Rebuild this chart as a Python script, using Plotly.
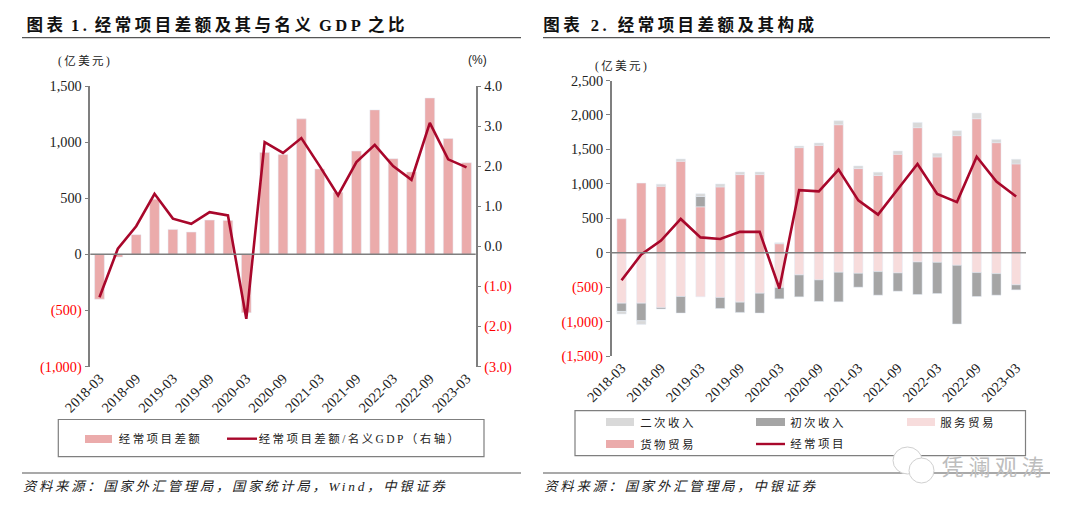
import plotly.graph_objects as go

quarters = [
    "2018-03", "2018-06", "2018-09", "2018-12", "2019-03", "2019-06", "2019-09",
    "2019-12", "2020-03", "2020-06", "2020-09", "2020-12", "2021-03", "2021-06",
    "2021-09", "2021-12", "2022-03", "2022-06", "2022-09", "2022-12", "2023-03",
]
shown_quarters = quarters[::2]

current_account = [
    -400, -25, 175, 490, 222, 198, 305, 302, -520, 908, 890,
    1207, 760, 553, 920, 1287, 852, 734, 1393, 1032, 816,
]
ca_to_gdp = [
    -1.27, -0.06, 0.50, 1.31, 0.69, 0.56, 0.85, 0.77, -1.81, 2.60, 2.33,
    2.70, 2.00, 1.27, 2.10, 2.53, 2.00, 1.66, 3.08, 2.17, 1.97,
]

goods = [
    492, 1010, 965, 1327, 666, 955, 1134, 1134, 130, 1525, 1559,
    1858, 1221, 1120, 1429, 1815, 1390, 1699, 1945, 1597, 1289,
]
services = [
    -733, -733, -800, -636, -640, -650, -718, -588, -506, -323, -395,
    -284, -299, -275, -294, -135, -140, -183, -289, -304, -467,
]
primary_income = [
    -120, -255, -19, -241, 150, -160, -149, -289, -164, -318, -313,
    -429, -202, -342, -265, -472, -453, -853, -347, -313, -73,
]
secondary_income = [
    -38, -53, 30, 34, 40, 43, 38, 38, 15, 24, 34,
    58, 39, 48, 48, 77, 53, 72, 82, 48, 68,
]

left_ticks = [-1000, -500, 0, 500, 1000, 1500]
left_ticklabels = ["(1,000)", "(500)", "0", "500", "1,000", "1,500"]
pct_ticks = [-3, -2, -1, 0, 1, 2, 3, 4]
pct_ticklabels = ["(3.0)", "(2.0)", "(1.0)", "0.0", "1.0", "2.0", "3.0", "4.0"]
right_ticks = [-1500, -1000, -500, 0, 500, 1000, 1500, 2000, 2500]
right_ticklabels = ["(1,500)", "(1,000)", "(500)", "0", "500", "1,000", "1,500", "2,000", "2,500"]

W, H = 1080, 514
PINK = "#EBABAB"
LIGHT_PINK = "#F7DCDC"
DARK_GREY = "#A5A5A5"
LIGHT_GREY = "#D9D9D9"
RED = "#A8072B"
AXIS = "#7F7F7F"
INK = "#222222"
LATIN = "Liberation Serif"
CJK = "Liberation Serif, Noto Sans CJK SC"


def px(x):
    return x / W


def py(y):
    return 1 - y / H


def red_negative(labels):
    return [f'<span style="color:#FF0000">{s}</span>' if s.startswith("(") else s for s in labels]


def y_axis(ticks, labels, span, top, bottom, **extra):
    return dict(
        range=span,
        domain=[py(bottom), py(top)],
        automargin=False,
        tickvals=ticks,
        ticktext=red_negative(labels),
        ticks="outside",
        ticklen=4,
        tickcolor=AXIS,
        tickfont=dict(family=LATIN, size=14.3, color=INK),
        showgrid=False,
        zeroline=False,
        showline=True,
        linecolor=AXIS,
        linewidth=1.5,
        **extra,
    )


def x_axis(left, right, **extra):
    return dict(
        type="category",
        categoryorder="array",
        categoryarray=quarters,
        range=[-0.5, len(quarters) - 0.5],
        domain=[px(left), px(right)],
        automargin=False,
        tickmode="array",
        tickvals=shown_quarters,
        ticktext=shown_quarters,
        tickangle=-45,
        ticks="",
        tickfont=dict(family=LATIN, size=14.3, color=INK),
        showgrid=False,
        zeroline=False,
        showline=False,
        **extra,
    )


def text(x, y, s, size, color=INK, bold=False, italic=False, family=CJK):
    return dict(
        xref="paper", yref="paper", x=px(x), y=py(y), text=s, showarrow=False,
        xanchor="center", yanchor="middle",
        font=dict(family=family, size=size, color=color,
                  weight="bold" if bold else "normal",
                  style="italic" if italic else "normal"),
    )


def hline(x0, x1, y, color="#555555", width=1.2):
    return dict(type="line", xref="paper", yref="paper", x0=px(x0), x1=px(x1),
                y0=py(y), y1=py(y), line=dict(color=color, width=width))


def box(x0, x1, y0, y1, fill="rgba(0,0,0,0)", line=None, width=0):
    return dict(type="rect", xref="paper", yref="paper", x0=px(x0), x1=px(x1),
                y0=py(y0), y1=py(y1), fillcolor=fill, line=dict(color=line, width=width))


def zero_line(xref, yref):
    return dict(type="line", xref=f"{xref} domain", yref=yref, x0=0, x1=1, y0=0, y1=0,
                line=dict(color=AXIS, width=1.5), layer="above")


fig = go.Figure()

# left chart
fig.add_bar(x=quarters, y=current_account, name="经常项目差额", marker_color=PINK,
            width=0.53, xaxis="x", yaxis="y")
fig.add_scatter(x=quarters, y=ca_to_gdp, name="经常项目差额/名义GDP(右轴)", mode="lines",
                line=dict(color=RED, width=2.6), xaxis="x", yaxis="y2")

# right chart
for name, values, colour in [
    ("货物贸易", goods, PINK),
    ("服务贸易", services, LIGHT_PINK),
    ("初次收入", primary_income, DARK_GREY),
    ("二次收入", secondary_income, LIGHT_GREY),
]:
    fig.add_bar(x=quarters, y=values, name=name, marker_color=colour, width=0.47,
                xaxis="x2", yaxis="y3")
fig.add_scatter(x=quarters, y=current_account, name="经常项目", mode="lines",
                line=dict(color=RED, width=2.6), xaxis="x2", yaxis="y3")

annotations = [
    text(217, 25, "图表 1. 经常项目差额及其与名义 GDP 之比", 16.5, "#111111", bold=True),
    text(680.5, 25, "图表 2. 经常项目差额及其构成", 16.5, "#111111", bold=True),
    text(85, 61, "(亿美元)", 11.5),
    text(477, 60, "(%)", 12, family="Liberation Sans"),
    text(622, 66, "(亿美元)", 11.5),
    text(236, 486, "资料来源:国家外汇管理局,国家统计局,Wind,中银证券", 13.3, italic=True),
    text(681.5, 486, "资料来源:国家外汇管理局,中银证券", 13.3, italic=True),
    # left legend
    text(160, 438.5, "经常项目差额", 11.5),
    text(360, 438.5, "经常项目差额/名义GDP(右轴)", 11.5),
    # right legend
    text(668, 422, "二次收入", 11.5),
    text(818, 422, "初次收入", 11.5),
    text(968, 422, "服务贸易", 11.5),
    text(668, 444, "货物贸易", 11.5),
    text(818, 444, "经常项目", 11.5),
    # watermark
    text(995, 467, "凭澜观涛", 22, "#BDBDBD"),
]
# full-width punctuation as in the source
for a in annotations:
    if "资料" in a["text"]:
        a["text"] = a["text"].replace(":", "\uff1a").replace(",", "\uff0c")
    if "右轴" in a["text"]:
        a["text"] = a["text"].replace("(", "\uff08").replace(")", "\uff09")

shapes = [
    hline(22, 521, 37.7),
    hline(22, 521, 473),
    hline(543, 1050, 37.7),
    hline(543, 1050, 473),
    zero_line("x", "y"),
    zero_line("x2", "y3"),
    # left legend
    box(58.3, 484, 419.5, 456.7, line="#7F7F7F", width=1.2),
    box(85, 112, 435, 443, fill=PINK),
    hline(227, 257, 438.7, RED, 2.4),
    # right legend
    box(575, 1025.5, 410.7, 455.7, line="#7F7F7F", width=1.2),
    box(606, 634, 418, 426, fill=LIGHT_GREY),
    box(756, 785, 418, 426, fill=DARK_GREY),
    box(907, 935, 418, 426, fill=LIGHT_PINK),
    box(606, 634, 440, 448, fill=PINK),
    hline(756, 785, 444, RED, 2.4),
    # watermark logo
    dict(type="circle", xref="paper", yref="paper", x0=px(893), x1=px(922), y0=py(474), y1=py(447),
         fillcolor="white", line=dict(color="#D0D0D0", width=1)),
    dict(type="circle", xref="paper", yref="paper", x0=px(909), x1=px(934), y0=py(483), y1=py(458),
         fillcolor="white", line=dict(color="#D0D0D0", width=1)),
]

fig.update_layout(
    width=W,
    height=H,
    margin=dict(l=0, r=0, t=0, b=0),
    paper_bgcolor="white",
    plot_bgcolor="white",
    showlegend=False,
    barmode="relative",
    xaxis=x_axis(90.3, 475.7, anchor="y"),
    yaxis=y_axis(left_ticks, left_ticklabels, [-1000, 1500], 86, 366.5, anchor="x"),
    yaxis2=y_axis(pct_ticks, pct_ticklabels, [-3, 4], 86, 366.5, anchor="x", overlaying="y", side="right"),
    xaxis2=x_axis(611.7, 1026, anchor="y3"),
    yaxis3=y_axis(right_ticks, right_ticklabels, [-1500, 2500], 80.5, 356, anchor="x2"),
    annotations=annotations,
    shapes=shapes,
)

spacing = """
document.body.style.margin = '0';
document.querySelectorAll('.annotation-text').forEach(function (t) {
    if (/[\\u4e00-\\u9fff]/.test(t.textContent)) {
        t.style.letterSpacing = 0.21 * parseFloat(t.style.fontSize) + 'px';
    }
    if (t.textContent.includes('GDP \\u4e4b')) {
        t.style.wordSpacing = '-3px';
    }
});
"""
fig.write_html("out.html", post_script=spacing, config=dict(displayModeBar=False))
